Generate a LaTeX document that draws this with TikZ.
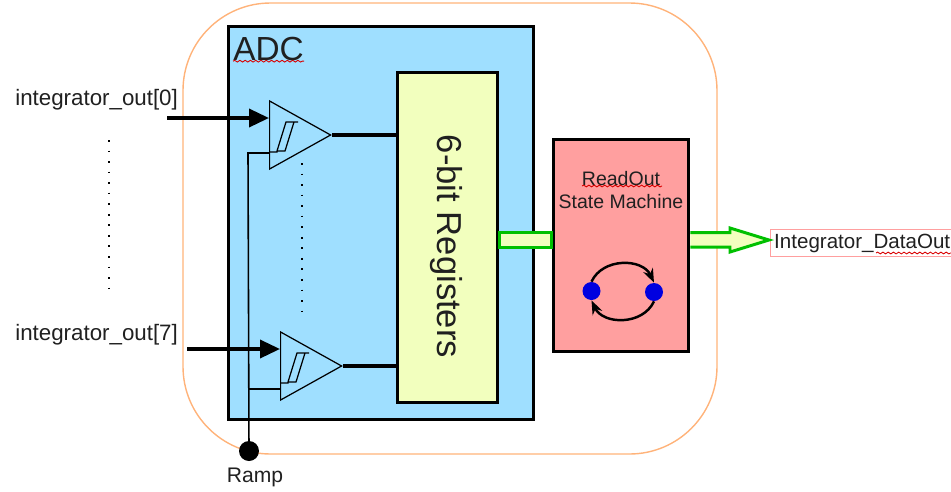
\documentclass[tikz,border=0pt]{standalone}
\usepackage{fontspec}
\setmainfont{Liberation Sans}
\usetikzlibrary{
  arrows.meta, positioning, shapes.geometric, calc, decorations.pathmorphing
}
\definecolor{shellorange}{HTML}{FFB37A}
\definecolor{adcblue}{HTML}{9FDFFF}
\definecolor{reglight}{HTML}{F2FFBE}
\definecolor{fsmpink}{HTML}{FF9F9F}
\definecolor{busgreen}{HTML}{00C000}
\definecolor{dotblue}{HTML}{0000E0}
\definecolor{inkgray}{HTML}{202020}

\begin{document}
\begin{tikzpicture}[
    x=0.02cm, y=-0.02cm,
    block/.style={draw=black, line width=1.7pt, fill=#1, inner sep=0pt},
    comparator/.style={draw=black, line width=0.7pt, fill=adcblue, isosceles triangle, isosceles triangle stretches, minimum width=1.36cm, minimum height=1.22cm, inner sep=0pt, anchor=lower side},
    wire/.style={line width=1.8pt},
    ramp wire/.style={line width=0.9pt},
    inarrow/.style={line width=2pt, -{Triangle[length=4mm, width=3.6mm]}},
    bus/.style={draw=busgreen, line width=1.7pt, fill=reglight},
    label/.style={font=\fontsize{12.7}{14}\selectfont, text=inkgray, inner sep=0pt},
    fsmdot/.style={circle, fill=dotblue, minimum size=0.36cm, inner sep=0pt},
    fsmarc/.style={line width=1.4pt, -{Stealth[length=2.8mm]}},
    sparse/.style={line width=0.8pt, dash pattern=on 1pt off 5pt},
    squiggle/.style={draw=red!85!black, line width=0.5pt, decorate, decoration={snake, amplitude=0.5pt, segment length=3pt}},
]
    \useasboundingbox (0,0) rectangle (951,491);

    % Outer outline
    \draw[shellorange, line width=0.8pt, rounded corners=1.75cm] (183,3) rectangle (717,454);

    % Blocks
    \node[block=adcblue, minimum width=6.12cm, minimum height=7.88cm] (adc) at (381,223) {};
    \node[block=reglight, minimum width=2.02cm, minimum height=6.62cm] (reg) at (447.5,237.5) {};
    \node[block=fsmpink, minimum width=2.72cm, minimum height=4.26cm] (fsm) at (621,245.5) {};
    \node[label, font=\fontsize{19.7}{22}\selectfont, rotate=-90] (regtext) at (446,246.5) {6-bit Registers};
    \node[label, anchor=west, font=\fontsize{19}{22}\selectfont] (adctext) at (233,49) {ADC};
    \node[label, align=center, font=\fontsize{11.1}{13}\selectfont] (fsmtext) at (621,190) {ReadOut\\State Machine};

    % Comparators
    \node[comparator] (cmp0) at (269,135) {};
    \node[comparator] (cmp7) at (280,366) {};
    \foreach \nm in {cmp0, cmp7} {
        \draw[line width=0.7pt, shift={(\nm.lower side)}] (0,17) -- (8,17) -- (8,16) -- (17,-13) -- (29,-13) (17,-13) -- (25,-13) -- (16,16) -- (8,16);
        \draw[wire] (\nm.apex) -- (reg.west |- \nm.apex);
    }

    % Ramp
    \node[circle, fill=black, minimum size=0.4cm, inner sep=0pt] (ramp) at (249,451) {};
    \node[label, below=0.12cm of ramp, xshift=0.12cm, font=\fontsize{12}{14}\selectfont] (ramptext) {Ramp};
    \coordinate (rampup) at (248,153);
    \coordinate (rampdn) at (248,389);
    \draw[ramp wire] (ramp.center) -- (rampup) -- (cmp0.lower side |- rampup);
    \draw[ramp wire] (rampdn) -- (cmp7.lower side |- rampdn);

    % Inputs
    \node[label, anchor=west] (in0text) at (15,100) {integrator\_out[0]};
    \node[label, anchor=west] (in7text) at (15,335) {integrator\_out[7]};
    \coordinate (in0) at (167,118);
    \coordinate (in7) at (187,349);
    \draw[inarrow] (in0) -- (cmp0.lower side |- in0);
    \draw[inarrow] (in7) -- (cmp7.lower side |- in7);
    \draw[sparse] (109,140) -- (109,290);
    \draw[sparse] (302,163) -- (302,313);

    % Data path
    \draw[bus] (reg.east |- 0,232.5) rectangle (fsm.west |- 0,247);
    \node[draw=fsmpink, line width=0.8pt, fill=white, label, font=\fontsize{11.7}{14}\selectfont, anchor=west, minimum height=0.54cm, text width=4.2cm, inner xsep=2pt] (outtext) at (770,243) {Integrator\_DataOut};
    \draw[bus] (fsm.east |- 0,232.5) -- (730,232.5) -- (730,228) -- (769,240) -- (730,252) -- (730,247) -- (fsm.east |- 0,247);

    % State machine
    \node[fsmdot] (st0) at (591.5,291) {};
    \node[fsmdot] (st1) at (654,292) {};
    \draw[fsmarc] (st0.north) to[out=65, in=115, looseness=1.1] (st1.north);
    \draw[fsmarc] (st1.south) to[out=-115, in=-65, looseness=1.1] (st0.south);

    % Spell check marks
    \draw[squiggle] (adctext.south west) -- (adctext.south east);
    \coordinate (rd0) at (582,186);
    \coordinate (rd1) at (662,186);
    \draw[squiggle] (rd0) -- (rd1);
    \coordinate (dq0) at (876,253);
    \coordinate (dq1) at (951,253);
    \draw[squiggle] (dq0) -- (dq1);
\end{tikzpicture}
\end{document}
